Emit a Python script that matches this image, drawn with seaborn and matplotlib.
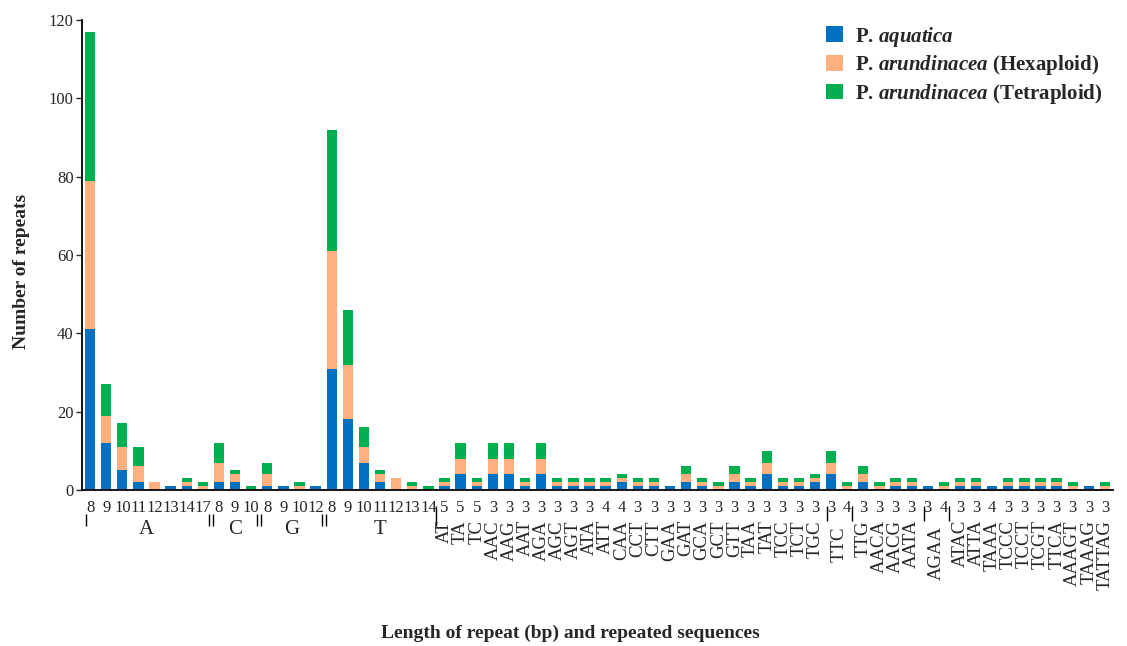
import numpy as np
import pandas as pd
import matplotlib
matplotlib.use("Agg")
import matplotlib.pyplot as plt
import matplotlib.transforms as mtransforms
from matplotlib.patches import Patch
import seaborn as sns

# ---------------- data ----------------
# mononucleotide repeats (unit, repeat length)
mono_units = ["A"] * 8 + ["C"] * 3 + ["G"] * 4 + ["T"] * 7
mono_lengths = [8, 9, 10, 11, 12, 13, 14, 17,
                8, 9, 10,
                8, 9, 10, 12,
                8, 9, 10, 11, 12, 13, 14]
mono_aquatica = [41, 12, 5, 2, 0, 1, 1, 0,
                 2, 2, 0,
                 1, 1, 0, 1,
                 31, 18, 7, 2, 0, 0, 0]
mono_hexaploid = [38, 7, 6, 4, 2, 0, 1, 1,
                  5, 2, 0,
                  3, 0, 1, 0,
                  30, 14, 4, 2, 3, 1, 0]
mono_tetraploid = [38, 8, 6, 5, 0, 0, 1, 1,
                   5, 1, 1,
                   3, 0, 1, 0,
                   31, 14, 5, 1, 0, 1, 1]

# di- to hexanucleotide repeats (motif, repeat number)
motifs = ["AT", "TA", "TC", "AAC", "AAG", "AAT", "AGA", "AGC", "AGT", "ATA",
          "ATT", "CAA", "CCT", "CTT", "GAA", "GAT", "GCA", "GCT", "GTT", "TAA",
          "TAT", "TCC", "TCT", "TGC", "TTC", "TTC", "TTG", "AACA", "AACG", "AATA",
          "AGAA", "AGAA", "ATAC", "ATTA", "TAAA", "TCCC", "TCCT", "TCGT", "TTCA", "AAAGT",
          "TAAAG", "TATTAG"]
motif_lengths = [5, 5, 5, 3, 3, 3, 3, 3, 3, 3,
                 4, 4, 3, 3, 3, 3, 3, 3, 3, 3,
                 3, 3, 3, 3, 3, 4, 3, 3, 3, 3,
                 3, 4, 3, 3, 4, 3, 3, 3, 3, 3,
                 3, 3]
motif_aquatica = [1, 4, 1, 4, 4, 1, 4, 1, 1, 1,
                  1, 2, 1, 1, 1, 2, 1, 0, 2, 1,
                  4, 1, 1, 2, 4, 0, 2, 0, 1, 1,
                  1, 0, 1, 1, 1, 1, 1, 1, 1, 0,
                  1, 0]
motif_hexaploid = [1, 4, 1, 4, 4, 1, 4, 1, 1, 1,
                   1, 1, 1, 1, 0, 2, 1, 1, 2, 1,
                   3, 1, 1, 1, 3, 1, 2, 1, 1, 1,
                   0, 1, 1, 1, 0, 1, 1, 1, 1, 1,
                   0, 1]
motif_tetraploid = [1, 4, 1, 4, 4, 1, 4, 1, 1, 1,
                    1, 1, 1, 1, 0, 2, 1, 1, 2, 1,
                    3, 1, 1, 1, 3, 1, 2, 1, 1, 1,
                    0, 1, 1, 1, 0, 1, 1, 1, 1, 1,
                    0, 1]

series_names = ["P. $aquatica$",
                "P. $arundinacea$ (Hexaploid)",
                "P. $arundinacea$ (Tetraploid)"]
colors = ["#0070C0", "#FFB07F", "#00B050"]

# ---------------- style ----------------
sns.set_style("ticks")
plt.rcParams["font.family"] = ["Liberation Serif", "DejaVu Serif"]
plt.rcParams["mathtext.fontset"] = "custom"
plt.rcParams["mathtext.it"] = "Liberation Serif:italic:bold"
plt.rcParams["mathtext.rm"] = "Liberation Serif:bold"
plt.rcParams["mathtext.bf"] = "Liberation Serif:bold"

units = mono_units + motifs
lengths = mono_lengths + motif_lengths
keys = [f"{u}-{l}-{i}" for i, (u, l) in enumerate(zip(units, lengths))]
aq = np.array(mono_aquatica + motif_aquatica)
hx = np.array(mono_hexaploid + motif_hexaploid)
tt = np.array(mono_tetraploid + motif_tetraploid)
df = pd.DataFrame({"key": keys, "c1": aq, "c2": aq + hx, "c3": aq + hx + tt})

fig = plt.figure(figsize=(11.27, 6.46), dpi=100)
ax = fig.add_axes([0.0728, 0.2415, 0.9148, 0.7276])

for col, color in [("c3", colors[2]), ("c2", colors[1]), ("c1", colors[0])]:
    sns.barplot(data=df, x="key", y=col, order=keys, color=color, saturation=1,
                width=0.64, linewidth=0, errorbar=None, ax=ax)

n = len(keys)
ax.set_xlim(-0.5, n - 0.5)
ax.set_ylim(0, 120)
ax.set_yticks(np.arange(0, 121, 20))
ax.set_xticks(range(n))
ax.set_xticklabels([str(v) for v in lengths], fontsize=12)
ax.tick_params(axis="x", length=0, pad=7)
ax.tick_params(axis="y", length=4, width=1, direction="out", labelsize=12, pad=2)
ax.set_xlabel("")
ax.set_ylabel("")
sns.despine(ax=ax)
for s in ["left", "bottom"]:
    ax.spines[s].set_linewidth(1.3)
    ax.spines[s].set_color("black")

trans = mtransforms.blended_transform_factory(ax.transData, ax.transAxes)

# mononucleotide group letters and separators
n_mono = len(mono_units)
group_order = []
for u in mono_units:
    if u not in group_order:
        group_order.append(u)
for g in group_order:
    idx = [i for i, u in enumerate(mono_units) if u == g]
    ax.text(np.mean(idx), -0.084, g, transform=trans, ha="center", va="center",
            fontsize=15, clip_on=False)


def vline(x, y0=-0.051, y1=-0.077):
    ax.plot([x, x], [y0, y1], transform=trans, color="black", lw=1.0,
            clip_on=False, solid_capstyle="butt")


vline(-0.25)
for i in range(1, n_mono):
    if mono_units[i] != mono_units[i - 1]:
        vline(i - 0.5 - 0.13)
        vline(i - 0.5 + 0.13)
vline(n_mono - 0.5, -0.035, -0.077)

# motif labels (merge consecutive duplicates)
i = 0
while i < len(motifs):
    j = i
    while j + 1 < len(motifs) and motifs[j + 1] == motifs[i]:
        j += 1
    xi = n_mono + (i + j) / 2
    if j > i:
        vline(n_mono + i - 0.25, -0.035, -0.067)
        vline(n_mono + j + 0.3, -0.035, -0.067)
        ytop = -0.077
    else:
        ytop = -0.064
    ax.text(xi, ytop, motifs[i], transform=trans, rotation=90, ha="center",
            va="top", fontsize=13.5, clip_on=False)
    i = j + 1

fig.text(570 / 1127, 1 - 633 / 646, "Length of repeat (bp) and repeated sequences",
         ha="center", va="center", fontsize=14, fontweight="bold")
fig.text(22 / 1127, 1 - 271 / 646, "Number of repeats", rotation=90,
         ha="center", va="center", fontsize=14, fontweight="bold")

handles = [Patch(facecolor=c, edgecolor="none") for c in colors]
fig.legend(handles, series_names, loc="upper left", bbox_to_anchor=(0.733, 0.962),
           frameon=False, prop=dict(family="Liberation Serif", weight="bold", size=15),
           handlelength=0.8, handleheight=0.8, handletextpad=0.6, labelspacing=0.22,
           borderpad=0, borderaxespad=0)

fig.savefig("out.png", dpi=100)
